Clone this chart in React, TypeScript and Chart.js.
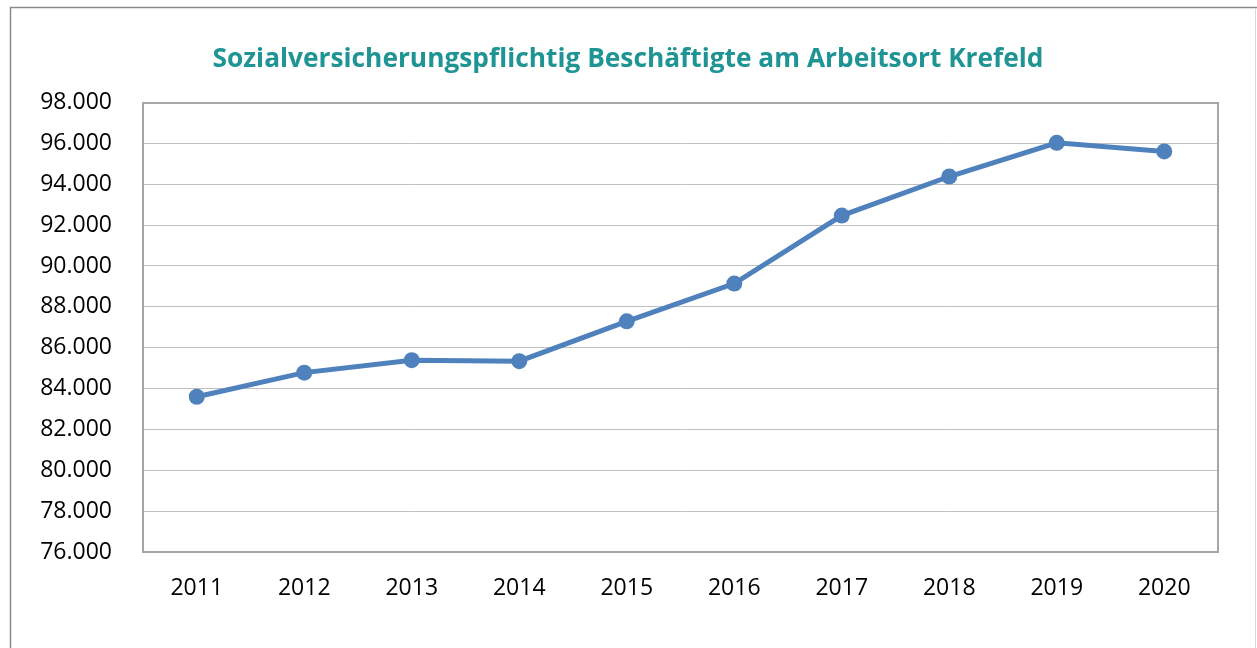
import React, { useEffect, useRef } from "react";
import { Chart, registerables } from "chart.js";

Chart.register(...registerables);

const TITLE = "Sozialversicherungspflichtig Beschäftigte am Arbeitsort Krefeld";
const YEARS = ["2011", "2012", "2013", "2014", "2015", "2016", "2017", "2018", "2019", "2020"];
const EMPLOYEES = [83600, 84780, 85390, 85340, 87290, 89140, 92470, 94380, 96030, 95610];
const Y_MIN = 76000;
const Y_MAX = 98000;
const Y_STEP = 2000;

const fmt = (v: number) => {
  const s = Math.round(v).toString();
  return s.replace(/\B(?=(\d{3})+(?!\d))/g, ".");
};

const framePlugin = {
  id: "frame",
  beforeDraw(chart: any) {
    const ctx = chart.ctx;
    ctx.save();
    ctx.fillStyle = "#ffffff";
    ctx.fillRect(0, 0, chart.width, chart.height);
    ctx.strokeStyle = "#8a8a8a";
    ctx.lineWidth = 1.5;
    ctx.beginPath();
    ctx.moveTo(10.5, chart.height + 5);
    ctx.lineTo(10.5, 7.5);
    ctx.lineTo(chart.width, 7.5);
    ctx.stroke();
    ctx.strokeStyle = "#d9d9d9";
    ctx.lineWidth = 1;
    ctx.beginPath();
    ctx.moveTo(1255.5, 8);
    ctx.lineTo(1255.5, chart.height);
    ctx.stroke();
    ctx.restore();
  },
  beforeDatasetsDraw(chart: any) {
    const { ctx, chartArea } = chart;
    ctx.save();
    ctx.strokeStyle = "#a6a6a6";
    ctx.lineWidth = 2;
    ctx.strokeRect(
      Math.round(chartArea.left),
      Math.round(chartArea.top),
      Math.round(chartArea.right - chartArea.left),
      Math.round(chartArea.bottom - chartArea.top)
    );
    ctx.restore();
  },
};

export default function App() {
  const ref = useRef<HTMLCanvasElement | null>(null);

  useEffect(() => {
    if (!ref.current) return;
    const chart = new Chart(ref.current, {
      type: "line",
      data: {
        labels: YEARS,
        datasets: [
          {
            data: EMPLOYEES,
            borderColor: "#4f81bd",
            backgroundColor: "#4f81bd",
            borderWidth: 5,
            pointRadius: 8,
            pointBorderWidth: 0,
            pointHoverRadius: 8,
            tension: 0,
          },
        ],
      },
      options: {
        animation: false,
        responsive: false,
        maintainAspectRatio: false,
        layout: { padding: { top: 20, right: 39, bottom: 0, left: 38 } },
        plugins: {
          legend: { display: false },
          tooltip: { enabled: false },
          title: {
            display: true,
            text: TITLE,
            color: "#1e9494",
            font: { family: "'Open Sans'", size: 26.3, weight: "bold" },
            padding: { top: 24, bottom: 27 },
          },
        },
        scales: {
          x: {
            type: "category",
            offset: true,
            grid: { display: false, drawTicks: false },
            border: { display: false },
            ticks: {
              color: "#000000",
              font: { family: "'Open Sans'", size: 23 },
              padding: 23,
              maxRotation: 0,
            },
            afterFit(scale: any) {
              scale.height = 96;
            },
          },
          y: {
            min: Y_MIN,
            max: Y_MAX,
            grid: { color: "#c0c0c0", lineWidth: 1, drawTicks: false },
            border: { display: false },
            ticks: {
              stepSize: Y_STEP,
              color: "#000000",
              font: { family: "'Open Sans'", size: 23 },
              padding: 31,
              callback: (v: any) => fmt(Number(v)),
            },
            afterFit(scale: any) {
              scale.width = 105;
            },
          },
        },
      },
      plugins: [framePlugin],
    });
    return () => chart.destroy();
  }, []);

  return (
    <div style={{ position: "absolute", left: 0, top: 0, width: 1257, height: 648 }}>
      <canvas ref={ref} width={1257} height={648} style={{ display: "block" }} />
    </div>
  );
}
